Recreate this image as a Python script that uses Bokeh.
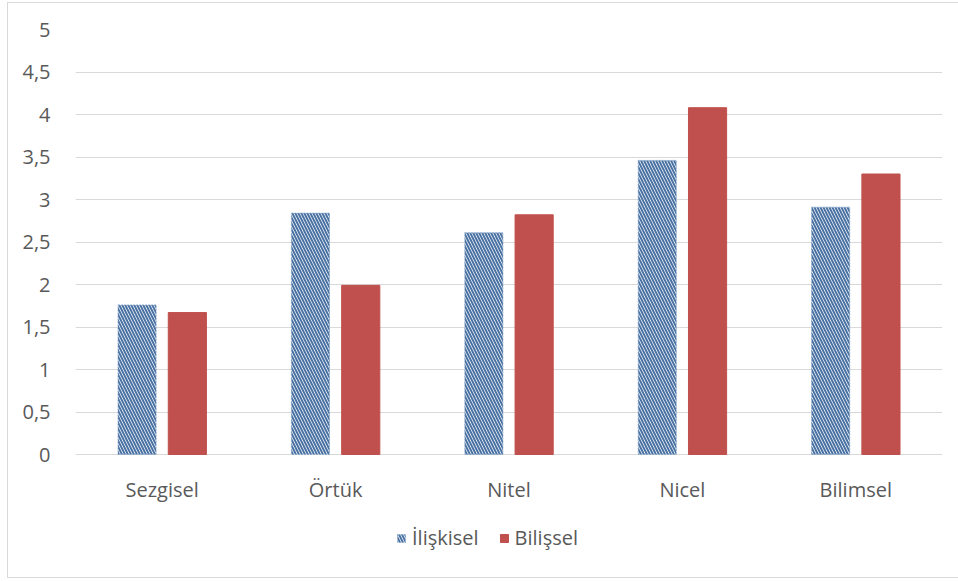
from bokeh.plotting import figure
from bokeh.models import (ColumnDataSource, FactorRange, Range1d, CustomJSTickFormatter,
                          FixedTicker, Legend, LegendItem)
from bokeh.transform import dodge
from bokeh.embed import file_html
from bokeh.resources import INLINE

# Data
categories = ["Sezgisel", "Örtük", "Nitel", "Nicel", "Bilimsel"]
iliskisel = [1.76, 2.84, 2.61, 3.46, 2.91]
bilissel = [1.67, 1.99, 2.82, 4.08, 3.30]
y_ticks = [0, 0.5, 1, 1.5, 2, 2.5, 3, 3.5, 4, 4.5, 5]

FONT = "Open Sans"
FONT_SIZE = "20px"
TEXT_COLOR = "#595959"
GRID_COLOR = "#d9d9d9"
BLUE = "#4a72a3"
RED = "#c0504d"

# Layout (pixels): the plotting frame runs down to the bottom border so the
# legend can sit inside it, under the category axis pinned at y = 0.
W, H = 950, 574
BORDER_L, BORDER_R, BORDER_T, BORDER_B = 67, 16, 26, 10
VALUE_SPAN_PX = 425            # height from 0 to 5
px_per_unit = VALUE_SPAN_PX / 5
below_zero_px = H - BORDER_T - BORDER_B - VALUE_SPAN_PX

source = ColumnDataSource(dict(cat=categories, a=iliskisel, b=bilissel))

p = figure(
    x_range=FactorRange(*categories, range_padding=0),
    y_range=Range1d(-below_zero_px / px_per_unit, 5),
    width=W, height=H,
    output_backend="svg",
    toolbar_location=None,
    min_border_left=BORDER_L, min_border_right=BORDER_R,
    min_border_top=BORDER_T, min_border_bottom=BORDER_B,
)
p.styles = {"margin-left": "8px", "margin-top": "3px", "outline": f"1px solid {GRID_COLOR}"}
p.outline_line_color = None
p.background_fill_color = "white"
p.border_fill_color = "white"

r1 = p.vbar(x=dodge("cat", -0.145, range=p.x_range), top="a", width=0.22, source=source,
            fill_color="white", hatch_pattern="\\", hatch_color=BLUE, hatch_scale=6,
            hatch_weight=2, line_color="#7f9fc4", line_dash="2 1", line_width=1, line_alpha=0.7)
r2 = p.vbar(x=dodge("cat", 0.145, range=p.x_range), top="b", width=0.22, source=source,
            fill_color=RED, line_color=RED)

# Axes
p.xaxis.fixed_location = 0
p.yaxis.ticker = FixedTicker(ticks=y_ticks)
p.yaxis.formatter = CustomJSTickFormatter(code="return tick.toString().replace('.', ',');")
for ax in (p.xaxis[0], p.yaxis[0]):
    ax.axis_line_color = None
    ax.major_tick_line_color = None
    ax.minor_tick_line_color = None
    ax.major_label_text_font = FONT
    ax.major_label_text_font_size = FONT_SIZE
    ax.major_label_text_color = TEXT_COLOR
p.yaxis.major_label_standoff = 19
p.xaxis.major_label_standoff = 15

p.xgrid.grid_line_color = None
p.ygrid.grid_line_color = GRID_COLOR
p.ygrid.grid_line_width = 1

legend = Legend(items=[LegendItem(label="İlişkisel", renderers=[r1]),
                       LegendItem(label="Bilişsel", renderers=[r2])],
                orientation="horizontal", location=(321, 16),
                label_text_font=FONT, label_text_font_size=FONT_SIZE,
                label_text_color=TEXT_COLOR, glyph_width=10, glyph_height=10,
                label_standoff=6, spacing=20, border_line_color=None,
                background_fill_alpha=0, margin=0, padding=0)
p.add_layout(legend, "center")

open("out.html", "w").write(file_html(p, INLINE))
